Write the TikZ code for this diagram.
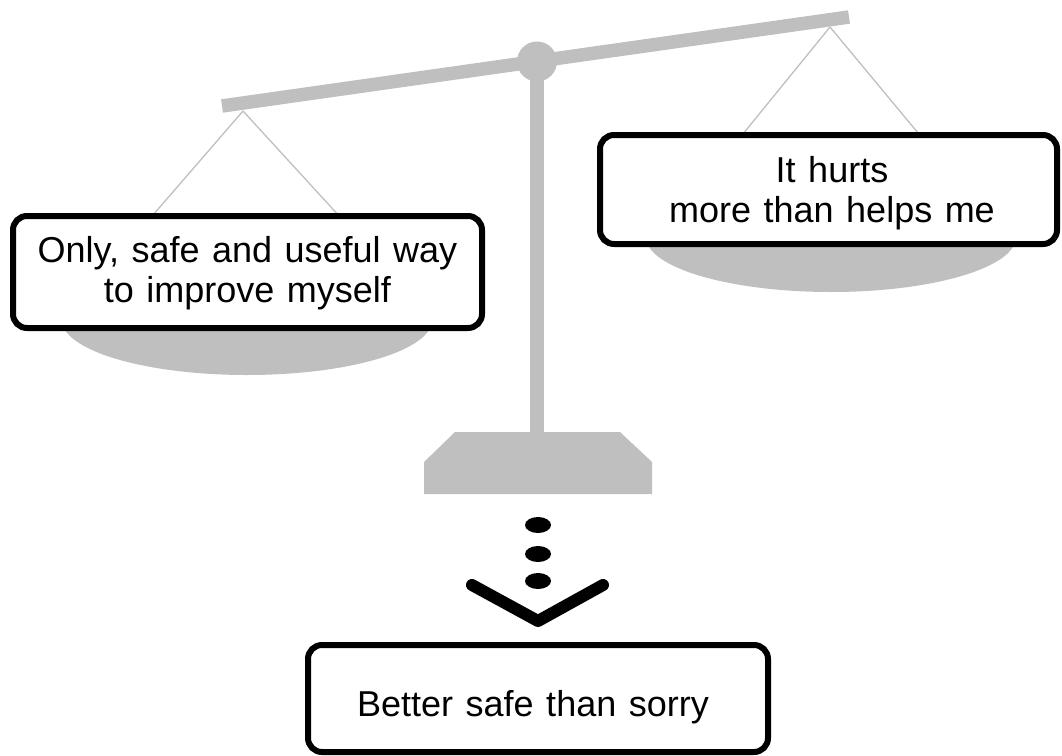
\documentclass[tikz,border=0pt]{standalone}
\usepackage{fontspec}
\setmainfont{Liberation Sans}[WordSpace={1.25,0.3,0.2}]
\definecolor{scalegrey}{HTML}{BFBFBF}
\begin{document}
\begin{tikzpicture}[x=1pt,y=-1pt,
  greyfill/.style={fill=scalegrey, draw=none},
  string/.style={draw=scalegrey, line width=1.3pt},
  msgbox/.style={draw=black, fill=white, line width=6pt, rounded corners=14pt, inner sep=0pt},
  msgtext/.style={font=\fontsize{36}{40}\selectfont, align=center, inner sep=0pt},
  dot/.style={fill=black, draw=none}
]
\useasboundingbox (0,0) rectangle (1062,755);
% beam ends and attach points
\coordinate (beamL) at (222,106);
\coordinate (beamR) at (849,17);
\coordinate (pivot) at (537,61.5);
\coordinate (hookL) at (243,111);
\coordinate (hookR) at (830,27);
% strings
\draw[string] (hookL) -- (140,230);
\draw[string] (hookL) -- (352,230);
\draw[string] (hookR) -- (734,145);
\draw[string] (hookR) -- (928,145);
% pans
\fill[greyfill] (62,320) arc[start angle=180, end angle=360, x radius=185, y radius=-55] -- cycle;
\fill[greyfill] (646,237) arc[start angle=180, end angle=360, x radius=185, y radius=-55] -- cycle;
% beam
\draw[scalegrey, line width=13.5pt] (beamL) -- (beamR);
% post
\draw[scalegrey, line width=14pt] (pivot) -- (537,434);
\fill[greyfill] (pivot) circle[radius=20];
% base
\fill[greyfill] (455,432) -- (620,432) -- (652,462) -- (652,494) -- (424,494) -- (424,462) -- cycle;
% boxes
\node[msgbox, minimum width=469pt, minimum height=112pt] (left) at (247.5,272) {};
\node[msgtext] (lefttext) at (247.5,273) {Only, safe and useful way\\to improve myself};
\node[msgbox, minimum width=457pt, minimum height=109pt] (right) at (828.5,189.5) {};
\node[msgtext] (righttext) at (832,193) {It hurts\\more than helps me};
\node[msgbox, minimum width=460pt, minimum height=107pt] (bottom) at (538,698.5) {};
\node[msgtext] (bottomtext) at (533,707) {Better safe than sorry};
% dots and chevron
\fill[dot] (538,525) ellipse[x radius=13, y radius=8];
\fill[dot] (538,554) ellipse[x radius=13, y radius=8];
\fill[dot] (538,581) ellipse[x radius=13, y radius=8];
\coordinate (chevL) at (472,585);
\coordinate (chevB) at (538,621);
\coordinate (chevR) at (603,585);
\draw[black, line width=12pt, line cap=round, line join=round] (chevL) -- (chevB) -- (chevR);
\end{tikzpicture}
\end{document}
